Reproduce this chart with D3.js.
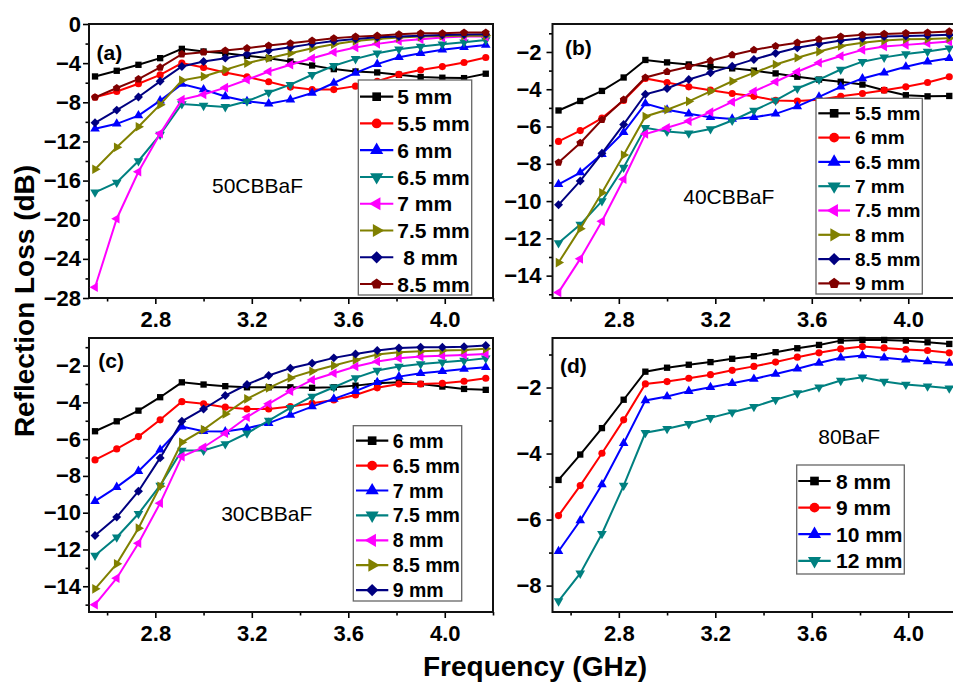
<!DOCTYPE html>
<html>
<head>
<meta charset="utf-8">
<script src="https://cdn.jsdelivr.net/npm/d3@7"></script>
<style>
  body { margin: 0; background: #fff; }
  svg text { font-family: "Liberation Sans", Arial, sans-serif; fill: #000; }
</style>
</head>
<body>
<svg id="chart" width="953" height="685"></svg>
<script>
// Frequency points (GHz), shared by all four panels
var freq = [2.55, 2.64, 2.73, 2.82, 2.91, 3.00, 3.09, 3.18, 3.27, 3.36,
            3.45, 3.54, 3.63, 3.72, 3.81, 3.90, 3.99, 4.08, 4.17];

var xMajor = [2.8, 3.2, 3.6, 4.0];
var xMinor = [2.6, 3.0, 3.4, 3.8, 4.2];

// (a) 50CBBaF
var namesA = ["5 mm", "5.5 mm", "6 mm", "6.5 mm", "7 mm", "7.5 mm", " 8 mm", "8.5 mm"];
var rlA = [
  [-5.36, -4.78, -4.17, -3.49, -2.54, -2.81, -2.98, -3.25, -3.49, -3.83, -4.24, -4.61, -4.85, -4.95, -5.19, -5.42, -5.49, -5.53, -5.08],
  [-7.49, -6.9, -6.1, -5.2, -4.0, -4.44, -4.95, -5.4, -5.9, -6.45, -6.7, -6.7, -6.35, -5.85, -5.15, -4.7, -4.35, -3.93, -3.42],
  [-10.7, -10.2, -9.36, -7.83, -6.14, -6.7, -7.4, -7.9, -8.14, -7.73, -7.05, -6.03, -5.0, -4.1, -3.39, -2.98, -2.64, -2.37, -2.14],
  [-17.2, -16.2, -14.0, -11.3, -8.17, -8.34, -8.47, -7.9, -7.0, -6.2, -5.19, -4.27, -3.56, -2.98, -2.58, -2.3, -2.07, -1.86, -1.63],
  [-26.9, -19.9, -15.1, -11.2, -7.73, -7.2, -6.5, -5.7, -4.85, -4.17, -3.5, -2.88, -2.4, -2.03, -1.73, -1.56, -1.39, -1.29, -1.29],
  [-14.85, -12.6, -10.5, -8.24, -5.76, -5.36, -4.68, -4.0, -3.5, -2.98, -2.47, -2.07, -1.73, -1.53, -1.39, -1.29, -1.22, -1.19, -1.19],
  [-10.1, -8.8, -7.46, -5.86, -4.34, -3.83, -3.49, -3.08, -2.71, -2.37, -2.03, -1.73, -1.53, -1.36, -1.29, -1.19, -1.12, -1.08, -1.05],
  [-7.49, -6.54, -5.63, -4.44, -3.08, -2.88, -2.71, -2.47, -2.2, -1.97, -1.7, -1.46, -1.29, -1.19, -1.05, -0.95, -0.95, -0.88, -0.88]
];

// (b) 40CBBaF
var namesB = ["5.5 mm", "6 mm", "6.5 mm", "7 mm", "7.5 mm", "8 mm", "8.5 mm", "9 mm"];
var rlB = [
  [-5.14, -4.63, -4.09, -3.37, -2.43, -2.56, -2.67, -2.79, -2.88, -3.0, -3.15, -3.33, -3.48, -3.6, -3.75, -4.05, -4.32, -4.38, -4.36],
  [-6.8, -6.22, -5.55, -4.6, -3.42, -3.64, -3.87, -4.05, -4.23, -4.38, -4.6, -4.63, -4.56, -4.38, -4.23, -4.05, -3.87, -3.64, -3.33],
  [-9.1, -8.47, -7.48, -6.31, -4.77, -5.1, -5.32, -5.5, -5.59, -5.5, -5.32, -4.92, -4.41, -3.87, -3.42, -3.12, -2.79, -2.52, -2.34],
  [-12.25, -11.26, -10.0, -8.2, -6.07, -6.27, -6.36, -6.13, -5.68, -5.14, -4.6, -3.96, -3.48, -2.94, -2.52, -2.29, -2.11, -1.98, -1.8],
  [-14.9, -13.1, -11.08, -8.83, -6.4, -6.07, -5.71, -5.23, -4.68, -4.11, -3.6, -3.06, -2.58, -2.22, -1.89, -1.71, -1.62, -1.53, -1.44],
  [-13.3, -11.48, -9.55, -7.53, -5.46, -5.1, -4.65, -4.11, -3.57, -3.12, -2.67, -2.31, -1.98, -1.68, -1.5, -1.39, -1.32, -1.3, -1.26],
  [-10.2, -8.92, -7.44, -5.89, -4.27, -3.96, -3.48, -3.12, -2.76, -2.4, -2.07, -1.77, -1.57, -1.39, -1.26, -1.17, -1.14, -1.12, -1.08],
  [-7.93, -6.88, -5.64, -4.56, -3.37, -3.06, -2.79, -2.47, -2.16, -1.89, -1.68, -1.5, -1.32, -1.17, -1.08, -1.03, -0.99, -0.96, -0.9]
];

// (c) 30CBBaF
var namesC = ["6 mm", "6.5 mm", "7 mm", "7.5 mm", "8 mm", "8.5 mm", "9 mm"];
var rlC = [
  [-5.57, -5.03, -4.45, -3.72, -2.91, -3.03, -3.12, -3.18, -3.18, -3.18, -3.21, -3.18, -3.09, -2.96, -2.91, -3.0, -3.14, -3.27, -3.32],
  [-7.13, -6.53, -5.86, -4.95, -3.96, -4.08, -4.26, -4.36, -4.36, -4.23, -4.05, -3.87, -3.6, -3.21, -3.0, -3.0, -2.96, -2.85, -2.69],
  [-9.37, -8.61, -7.74, -6.58, -5.32, -5.57, -5.59, -5.41, -5.13, -4.68, -4.23, -3.81, -3.39, -2.91, -2.6, -2.42, -2.31, -2.18, -2.09],
  [-12.33, -11.33, -10.06, -8.52, -6.62, -6.62, -6.26, -5.68, -4.99, -4.3, -3.68, -3.18, -2.67, -2.27, -2.05, -1.91, -1.82, -1.73, -1.6],
  [-15.0, -13.56, -11.66, -9.48, -6.95, -6.44, -5.68, -4.81, -4.08, -3.39, -2.78, -2.42, -2.05, -1.78, -1.6, -1.51, -1.46, -1.42, -1.37],
  [-14.14, -12.78, -10.84, -8.56, -6.17, -5.48, -4.63, -3.81, -3.21, -2.67, -2.31, -2.0, -1.69, -1.4, -1.28, -1.22, -1.18, -1.15, -1.09],
  [-11.24, -10.24, -8.83, -7.02, -5.03, -4.36, -3.63, -3.03, -2.54, -2.14, -1.87, -1.58, -1.37, -1.18, -1.04, -1.0, -1.0, -0.97, -0.91]
];

// (d) 80BaF
var namesD = ["8 mm", "9 mm", "10 mm", "12 mm"];
var rlD = [
  [-4.8, -4.03, -3.23, -2.37, -1.52, -1.4, -1.31, -1.23, -1.13, -1.05, -0.93, -0.81, -0.71, -0.58, -0.56, -0.56, -0.58, -0.63, -0.68],
  [-5.88, -4.97, -3.99, -2.98, -1.89, -1.82, -1.72, -1.61, -1.48, -1.36, -1.23, -1.08, -0.95, -0.83, -0.76, -0.8, -0.85, -0.88, -0.95],
  [-6.96, -6.03, -4.94, -3.69, -2.39, -2.27, -2.11, -1.99, -1.87, -1.74, -1.59, -1.43, -1.26, -1.1, -1.03, -1.1, -1.16, -1.21, -1.26],
  [-8.47, -7.63, -6.43, -4.97, -3.37, -3.25, -3.1, -2.92, -2.75, -2.58, -2.37, -2.17, -1.99, -1.79, -1.69, -1.82, -1.91, -1.96, -2.02]
];

var seriesColors = ["#000000", "#ff0000", "#0000ff", "#008080", "#ff00ff", "#808000", "#000080", "#800000"];
var seriesShapes = ["square", "circle", "up", "down", "left", "right", "diamond", "pentagon"];

var svg = d3.select("#chart");

// custom symbols
var diamond = {
  draw: function (ctx, size) {
    var r = Math.sqrt(size / 2);
    ctx.moveTo(0, -r); ctx.lineTo(r, 0); ctx.lineTo(0, r); ctx.lineTo(-r, 0); ctx.closePath();
  }
};
var pentagon = {
  draw: function (ctx, size) {
    var r = Math.sqrt(size / 2.378);
    for (var k = 0; k < 5; k++) {
      var a = -Math.PI / 2 + k * 2 * Math.PI / 5;
      if (k === 0) ctx.moveTo(r * Math.cos(a), r * Math.sin(a));
      else ctx.lineTo(r * Math.cos(a), r * Math.sin(a));
    }
    ctx.closePath();
  }
};
var shapeTypes = {
  square: d3.symbolSquare, circle: d3.symbolCircle, up: d3.symbolTriangle, down: d3.symbolTriangle,
  left: d3.symbolTriangle, right: d3.symbolTriangle, diamond: diamond, pentagon: pentagon
};
var shapeRot = { up: 0, down: 180, left: -90, right: 90 };

function marker(g, kind, size, cx, cy, color) {
  g.append("path")
    .attr("d", d3.symbol(shapeTypes[kind], size)())
    .attr("transform", "translate(" + cx + "," + cy + ") rotate(" + (shapeRot[kind] || 0) + ")")
    .attr("fill", color)
    .attr("stroke", "none");
}

var panels = [
  { names: namesA, data: rlA, x0: 89, y0: 24, yDom: [-28, 0],
    yMajor: [0, -4, -8, -12, -16, -20, -24, -28], yMinor: [-2, -6, -10, -14, -18, -22, -26], pad: 2,
    tag: "(a)", tagX: 96.5, tagY: 60, note: "50CBBaF", noteX: 257.5, noteY: 193,
    leg: { x: 358.3, y: 80, w: 113.4, h: 215, row0: 96.7, step: 26.76, fs: 21, l0: 360, l1: 393.3, tx: 397.3 } },
  { names: namesB, data: rlB, x0: 552.5, y0: 24, yDom: [-15.2, -0.5],
    yMajor: [-2, -4, -6, -8, -10, -12, -14], yMinor: [-1, -3, -5, -7, -9, -11, -13, -15], pad: 5,
    tag: "(b)", tagX: 565, tagY: 55, note: "40CBBaF", noteX: 728.8, noteY: 203.5,
    leg: { x: 816, y: 98.3, w: 106.3, h: 195.7, row0: 113.3, step: 24.3, fs: 19, l0: 818.3, l1: 850, tx: 855 } },
  { names: namesC, data: rlC, x0: 89, y0: 338, yDom: [-15.4, -0.5],
    yMajor: [-2, -4, -6, -8, -10, -12, -14], yMinor: [-1, -3, -5, -7, -9, -11, -13, -15], pad: 2,
    tag: "(c)", tagX: 98.3, tagY: 367.5, note: "30CBBaF", noteX: 266.7, noteY: 521,
    leg: { x: 353.3, y: 425.7, w: 108.4, h: 175.3, row0: 440.7, step: 24.9, fs: 19.5, l0: 356, l1: 388.3, tx: 392.7 } },
  { names: namesD, data: rlD, x0: 552.5, y0: 338, yDom: [-8.8, -0.5],
    yMajor: [-2, -4, -6, -8], yMinor: [-1, -3, -5, -7], pad: 5,
    tag: "(d)", tagX: 560, tagY: 373, note: "80BaF", noteX: 849.2, noteY: 444.3,
    leg: { x: 796.7, y: 465, w: 107.6, h: 109, row0: 481, step: 26.6, fs: 21, l0: 798.3, l1: 830.7, tx: 836 } }
];

var plotW = 404, plotH = 274;

panels.forEach(function (p) {
  var x = d3.scaleLinear().domain([2.525, 4.2]).range([p.x0, p.x0 + plotW]);
  var y = d3.scaleLinear().domain(p.yDom).range([p.y0 + plotH, p.y0]);

  // axes
  var gx = svg.append("g").attr("transform", "translate(0," + (p.y0 + plotH) + ")")
    .call(d3.axisBottom(x).tickValues(xMajor).tickFormat(d3.format(".1f"))
      .tickSizeInner(6).tickSizeOuter(0).tickPadding(7.5));
  var gxm = svg.append("g").attr("transform", "translate(0," + (p.y0 + plotH) + ")")
    .call(d3.axisBottom(x).tickValues(xMinor).tickFormat("").tickSizeInner(3.5).tickSizeOuter(0));
  var gy = svg.append("g").attr("transform", "translate(" + p.x0 + ",0)")
    .call(d3.axisLeft(y).tickValues(p.yMajor).tickFormat(d3.format("d"))
      .tickSizeInner(6).tickSizeOuter(0).tickPadding(p.pad));
  var gym = svg.append("g").attr("transform", "translate(" + p.x0 + ",0)")
    .call(d3.axisLeft(y).tickValues(p.yMinor).tickFormat("").tickSizeInner(3.5).tickSizeOuter(0));

  [gx, gxm, gy, gym].forEach(function (g) {
    g.select(".domain").remove();
    g.selectAll(".tick line").attr("stroke", "#000").attr("stroke-width", 1.6);
    g.selectAll(".tick text").attr("font-size", 22).attr("font-weight", "bold")
      .attr("font-family", "'Liberation Sans', Arial, sans-serif").attr("fill", "#000");
  });

  // frame
  svg.append("rect")
    .attr("x", p.x0).attr("y", p.y0).attr("width", plotW).attr("height", plotH)
    .attr("fill", "none").attr("stroke", "#111").attr("stroke-width", 2);

  // curves
  var line = d3.line().x(function (d, i) { return x(freq[i]); }).y(function (d) { return y(d); });
  p.data.forEach(function (vals, s) {
    var g = svg.append("g");
    g.append("path").attr("d", line(vals))
      .attr("fill", "none").attr("stroke", seriesColors[s]).attr("stroke-width", 2);
    vals.forEach(function (v, i) {
      marker(g, seriesShapes[s], 40, x(freq[i]), y(v), seriesColors[s]);
    });
  });

  // panel tag + sample name
  svg.append("text").attr("x", p.tagX).attr("y", p.tagY)
    .attr("font-size", 21).attr("font-weight", "bold").text(p.tag);
  svg.append("text").attr("x", p.noteX).attr("y", p.noteY).attr("text-anchor", "middle")
    .attr("font-size", 21).text(p.note);

  // legend
  var L = p.leg;
  var lg = svg.append("g");
  lg.append("rect").attr("x", L.x).attr("y", L.y).attr("width", L.w).attr("height", L.h)
    .attr("fill", "#fff").attr("stroke", "#666").attr("stroke-width", 1.3);
  p.names.forEach(function (name, s) {
    var cy = L.row0 + s * L.step;
    lg.append("line").attr("x1", L.l0).attr("x2", L.l1).attr("y1", cy).attr("y2", cy)
      .attr("stroke", seriesColors[s]).attr("stroke-width", 2.2);
    marker(lg, seriesShapes[s], 75, (L.l0 + L.l1) / 2, cy, seriesColors[s]);
    lg.append("text").attr("x", L.tx).attr("y", cy).attr("dy", "0.36em")
      .attr("xml:space", "preserve").style("white-space", "pre")
      .attr("font-size", L.fs).attr("font-weight", "bold").text(name);
  });
});

// shared axis titles
svg.append("text")
  .attr("transform", "translate(33.5,301) rotate(-90)")
  .attr("text-anchor", "middle").attr("font-size", 28).attr("font-weight", "bold")
  .text("Reflection Loss (dB)");
svg.append("text")
  .attr("x", 535).attr("y", 676)
  .attr("text-anchor", "middle").attr("font-size", 28).attr("font-weight", "bold")
  .text("Frequency (GHz)");
</script>
</body>
</html>
